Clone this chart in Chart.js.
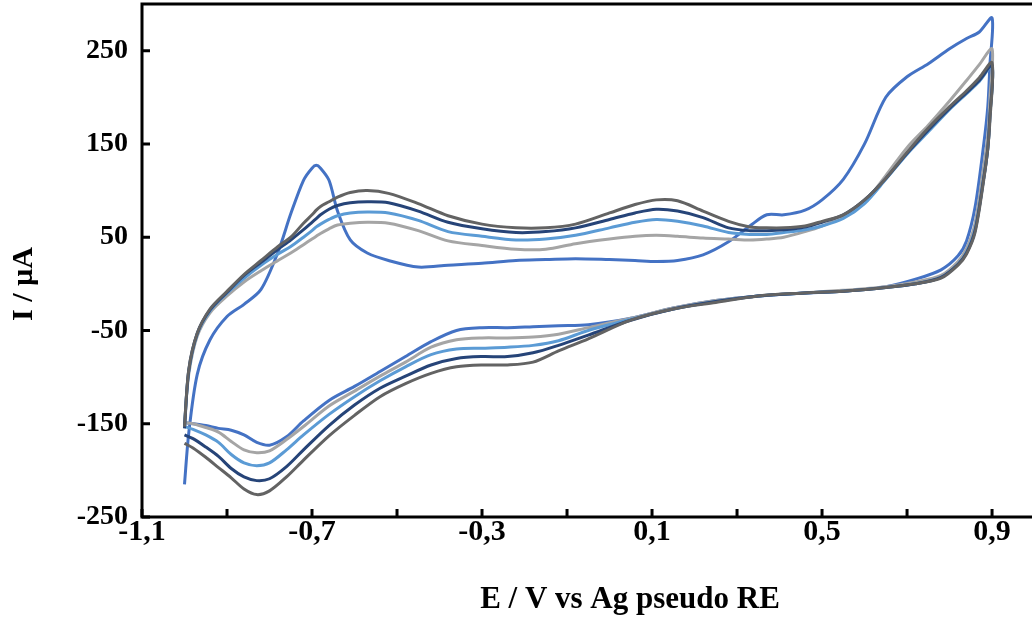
<!DOCTYPE html>
<html lang="en">
<head>
    <meta charset="UTF-8">
    <title>Cyclic voltammograms</title>
    <script src="https://cdn.jsdelivr.net/npm/chart.js"></script>
    <style>
        html, body { margin: 0; padding: 0; background: #fff; }
        #wrap { width: 1032px; height: 620px; }
    </style>
</head>
<body>
    <div id="wrap"><canvas id="cv" width="1032" height="620"></canvas></div>

    <script>
        // potential grid, forward scan (-1.0 -> 0.9 V) and reverse scan (0.9 -> -1.0 V)
        const E_FWD = [-1.00, -0.99, -0.97, -0.94, -0.90, -0.86, -0.82, -0.78, -0.75, -0.72, -0.70, -0.69, -0.68, -0.66, -0.64, -0.61, -0.57, -0.52, -0.45, -0.38, -0.30, -0.22, -0.15, -0.08, 0.00, 0.06, 0.11, 0.16, 0.22, 0.28, 0.33, 0.37, 0.41, 0.46, 0.50, 0.55, 0.60, 0.65, 0.70, 0.75, 0.80, 0.84, 0.87, 0.90];
        const E_REV = [0.895, 0.89, 0.88, 0.86, 0.84, 0.82, 0.78, 0.72, 0.65, 0.55, 0.45, 0.35, 0.25, 0.15, 0.05, -0.05, -0.12, -0.18, -0.24, -0.30, -0.36, -0.42, -0.48, -0.54, -0.60, -0.66, -0.72, -0.76, -0.80, -0.83, -0.86, -0.89, -0.92, -0.95, -0.98, -1.00];

        // currents in µA
        const blueFwd = [-215, -160, -97, -60, -35, -22, -6, 34, 75, 111, 124, 127, 124, 111, 78, 47, 33, 25, 18, 20, 22, 25, 26, 27, 26, 25, 24, 25, 31, 45, 62, 74, 74, 79, 90, 112, 150, 200, 222, 236, 252, 263, 270, 285];
        const blueRev = [235, 190, 148, 82, 46, 30, 15, 5, -3, -8, -10, -13, -18, -26, -37, -44, -45, -46, -47, -47, -50, -62, -78, -94, -110, -125, -147, -164, -173, -170, -162, -157, -155, -152, -150, -149];

        const lightGreyFwd = [-150, -97, -56, -31, -13, 2, 14, 25, 33, 42, 48, 51, 54, 59, 63, 65, 66, 65, 57, 46, 41, 37, 37, 43, 48, 51, 52, 51, 49, 48, 47, 48, 50, 56, 62, 72, 88, 116, 146, 170, 196, 218, 235, 252];
        const lightGreyRev = [200, 160, 125, 65, 38, 24, 9, 2, -3, -7, -10, -13, -18, -26, -37, -47, -54, -57, -58, -58, -60, -68, -84, -99, -115, -131, -153, -167, -179, -181, -178, -169, -159, -154, -150, -149];

        const lightBlueFwd = [-152, -94, -54, -29, -10, 6, 20, 32, 40, 50, 57, 61, 64, 69, 73, 76, 77, 76, 68, 56, 51, 47, 48, 52, 60, 66, 69, 67, 62, 55, 53, 53, 55, 58, 62, 70, 86, 112, 139, 163, 187, 204, 217, 233];
        const lightBlueRev = [180, 145, 112, 58, 34, 21, 7, 0, -4, -8, -10, -13, -19, -27, -38, -50, -61, -66, -68, -69, -70, -76, -89, -104, -121, -140, -162, -178, -192, -195, -192, -183, -170, -162, -156, -153];

        const navyFwd = [-155, -93, -53, -28, -9, 9, 23, 37, 47, 58, 66, 70, 74, 80, 84, 87, 88, 87, 78, 66, 59, 55, 56, 60, 69, 76, 80, 78, 71, 60, 57, 57, 58, 61, 66, 74, 90, 113, 140, 165, 188, 205, 218, 234];
        const navyRev = [180, 145, 112, 57, 33, 21, 7, 0, -4, -8, -10, -13, -19, -27, -39, -55, -66, -74, -78, -78, -80, -87, -99, -112, -130, -152, -178, -196, -209, -211, -207, -198, -185, -175, -166, -162];

        const darkGreyFwd = [-153, -92, -53, -27, -8, 10, 25, 40, 50, 65, 74, 79, 83, 88, 93, 98, 100, 97, 86, 73, 64, 60, 60, 64, 76, 85, 90, 89, 78, 67, 61, 60, 60, 62, 67, 74, 90, 113, 141, 167, 190, 207, 221, 237];
        const darkGreyRev = [175, 145, 110, 55, 32, 20, 6, 0, -4, -8, -10, -13, -20, -27, -39, -59, -72, -84, -87, -87, -89, -96, -107, -121, -141, -163, -189, -207, -222, -226, -220, -208, -197, -186, -176, -171];

        // axis ticks
        const xTicks = [-1.1, -0.9, -0.7, -0.5, -0.3, -0.1, 0.1, 0.3, 0.5, 0.7, 0.9];
        const xTickLabels = ['-1,1', '', '-0,7', '', '-0,3', '', '0,1', '', '0,5', '', '0,9'];
        const yTicks = [-250, -150, -50, 50, 150, 250];
        const xTitle = 'E / V vs Ag pseudo RE';
        const yTitle = 'I / µA';

        const FONT = "'Liberation Serif', 'Times New Roman', serif";

        function loop(fwd, rev) {
            const pts = E_FWD.map((e, i) => ({ x: e, y: fwd[i] }));
            return pts.concat(E_REV.map((e, i) => ({ x: e, y: rev[i] })));
        }

        function series(data, color) {
            return {
                data: data,
                borderColor: color,
                backgroundColor: color,
                borderWidth: 3,
                showLine: true,
                pointRadius: 0,
                tension: 0.3,
                fill: false
            };
        }

        // black frame, inward tick marks and the two axis titles
        const frame = {
            id: 'frame',
            afterDraw(chart) {
                const { ctx, chartArea: a, scales: { x, y } } = chart;
                ctx.save();
                ctx.strokeStyle = '#000';
                ctx.lineWidth = 3;
                ctx.beginPath();
                ctx.moveTo(chart.width, a.top);
                ctx.lineTo(a.left, a.top);
                ctx.lineTo(a.left, a.bottom);
                ctx.lineTo(chart.width, a.bottom);
                ctx.stroke();

                ctx.beginPath();
                x.ticks.forEach(t => {
                    const px = x.getPixelForValue(t.value);
                    ctx.moveTo(px, a.bottom);
                    ctx.lineTo(px, a.bottom - 8);
                });
                y.ticks.forEach(t => {
                    const py = y.getPixelForValue(t.value);
                    ctx.moveTo(a.left, py);
                    ctx.lineTo(a.left + 8, py);
                });
                ctx.stroke();

                ctx.fillStyle = '#000';
                ctx.textAlign = 'center';
                ctx.textBaseline = 'middle';
                ctx.font = 'bold 31px ' + FONT;
                ctx.fillText(xTitle, 630, 600);
                ctx.translate(24, 284);
                ctx.rotate(-Math.PI / 2);
                ctx.font = 'bold 30px ' + FONT;
                ctx.fillText(yTitle, 0, 0);
                ctx.restore();
            }
        };

        new Chart(document.getElementById('cv'), {
            type: 'scatter',
            data: {
                datasets: [
                    series(loop(darkGreyFwd, darkGreyRev), '#636363'),
                    series(loop(navyFwd, navyRev), '#264478'),
                    series(loop(lightBlueFwd, lightBlueRev), '#5B9BD5'),
                    series(loop(lightGreyFwd, lightGreyRev), '#A5A5A5'),
                    series(loop(blueFwd, blueRev), '#4472C4')
                ]
            },
            options: {
                responsive: false,
                animation: false,
                layout: { padding: { top: 4, right: 0, left: 0, bottom: 0 } },
                plugins: {
                    legend: { display: false },
                    tooltip: { enabled: false }
                },
                scales: {
                    x: {
                        type: 'linear',
                        min: -1.1,
                        max: 0.994,
                        afterBuildTicks: s => { s.ticks = xTicks.map(v => ({ value: v })); },
                        afterFit: s => {
                            s.height = 103;
                            s.paddingLeft = 0;
                            s.paddingRight = 0;
                        },
                        grid: { display: false, drawTicks: false },
                        border: { display: false },
                        ticks: {
                            autoSkip: false,
                            maxRotation: 0,
                            padding: -3,
                            color: '#000',
                            font: { family: FONT, size: 30, weight: 'bold' },
                            callback: (v, i) => xTickLabels[i]
                        }
                    },
                    y: {
                        type: 'linear',
                        min: -250,
                        max: 300,
                        afterBuildTicks: s => { s.ticks = yTicks.map(v => ({ value: v })); },
                        afterFit: s => {
                            s.width = 142;
                            s.paddingTop = 0;
                            s.paddingBottom = 0;
                        },
                        grid: { display: false, drawTicks: false },
                        border: { display: false },
                        ticks: {
                            padding: 14,
                            color: '#000',
                            font: { family: FONT, size: 28, weight: 'bold' }
                        }
                    }
                }
            },
            plugins: [frame]
        });
    </script>
</body>
</html>
